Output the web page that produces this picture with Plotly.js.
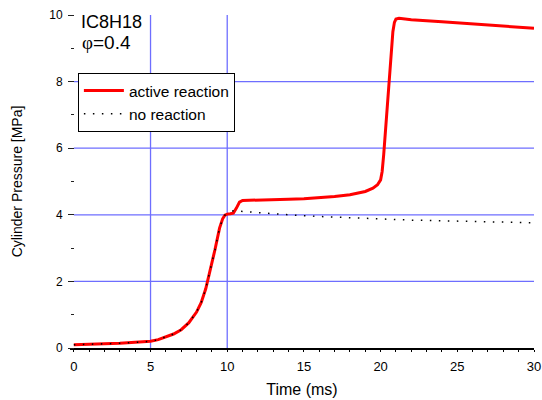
<!DOCTYPE html>
<html><head><meta charset="utf-8">
<script src="https://cdn.plot.ly/plotly-3.0.1.min.js"></script>
<style>html,body{margin:0;padding:0;background:#fff}#chart{width:542px;height:400px}</style>
</head><body><div id="chart"></div>
<script>
// Active reaction curve (time ms, pressure MPa)
const timeActive = [0,1,2,3,4,5,5.5,6,6.5,7,7.5,8,8.3,8.6,8.9,9.2,9.5,9.7,9.85,10,10.2,10.4,10.6,10.8,11,12,13,14,15,16,17,18,18.5,19,19.5,19.8,20,20.1,20.2,20.3,20.4,20.5,20.6,20.7,20.8,20.9,21,21.2,22,24,26,28,30];
const pressureActive = [0.1,0.11,0.12,0.14,0.17,0.2,0.25,0.33,0.42,0.55,0.76,1.08,1.36,1.78,2.33,2.95,3.6,3.88,3.99,4.02,4.03,4.05,4.2,4.38,4.43,4.45,4.46,4.47,4.48,4.51,4.55,4.6,4.64,4.7,4.8,4.9,5.05,5.3,5.8,6.4,7.1,7.7,8.3,8.8,9.5,9.78,9.88,9.9,9.86,9.8,9.73,9.66,9.6];
// No reaction curve
const timeNoReaction = [0,1,2,3,4,5,5.5,6,6.5,7,7.5,8,8.3,8.6,8.9,9.2,9.5,9.7,9.85,10,10.4,11,12,14,16,18,20,22,24,26,28,30];
const pressureNoReaction = [0.1,0.11,0.12,0.14,0.17,0.2,0.25,0.33,0.42,0.55,0.76,1.08,1.36,1.78,2.33,2.95,3.6,3.88,3.99,4.04,4.12,4.1,4.06,4.0,3.95,3.91,3.87,3.84,3.82,3.8,3.78,3.76];
// Tick labels and grid positions
const xTickVals = [0,5,10,15,20,25,30];
const yTickVals = [0,2,4,6,8,10];
const xGrid = [5,10];
const yGrid = [2,4,6,8];
const seriesNames = ["active reaction","no reaction"];

const gridColor = "rgb(110,110,255)";
const shapes = [];
xGrid.forEach(v => shapes.push({type:"line", xref:"x", yref:"y", x0:v, x1:v, y0:0, y1:10, layer:"below", line:{color:gridColor, width:1.3}}));
yGrid.forEach(v => shapes.push({type:"line", xref:"x", yref:"y", x0:0, x1:30, y0:v, y1:v, layer:"below", line:{color:gridColor, width:1.3}}));

const traces = [
  {x: timeActive, y: pressureActive, name: seriesNames[0], mode:"lines", line:{color:"#ff0000", width:3}},
  {x: timeNoReaction, y: pressureNoReaction, name: seriesNames[1], mode:"lines", line:{color:"#000000", width:1.5, dash:"1.5px,7.5px"}}
];

const font = "Arial, 'Liberation Sans', sans-serif";
const layout = {
  width:542, height:400,
  margin:{l:70, r:8, t:15, b:52},
  paper_bgcolor:"#fff", plot_bgcolor:"#fff",
  font:{family:font, color:"#000", size:12},
  showlegend:true,
  legend:{x:0.017, y:0.826, xanchor:"left", yanchor:"top", bgcolor:"#fff", bordercolor:"#000", borderwidth:1, font:{size:15.5, family:font}, tracegroupgap:0, itemwidth:40},
  xaxis:{range:[-0.25,30], tickvals:xTickVals, showgrid:false, zeroline:false, showline:true, linecolor:"#000", linewidth:1.5,
    ticks:"outside", ticklen:2, tickcolor:"#000", ticklabelstandoff:4, minor:{dtick:1, ticks:"outside", ticklen:2, tickcolor:"#000", showgrid:false},
    tickfont:{size:13}, title:{text:"Time (ms)", font:{size:16}, standoff:10}},
  yaxis:{range:[0,10], anchor:"free", position:0.0086, tickvals:yTickVals, showgrid:false, zeroline:false, showline:false,
    ticks:"outside", ticklen:6, tickcolor:"#222", ticklabelstandoff:3, minor:{tickvals:[1,3,5,7,9], ticks:"outside", ticklen:3, tickcolor:"#222", showgrid:false},
    tickfont:{size:12}, title:{text:"Cylinder Pressure [MPa]", font:{size:14}, standoff:22}},
  shapes: shapes,
  annotations:[
    {xref:"paper", yref:"paper", x:0.02, y:0.978, xanchor:"left", yanchor:"middle", showarrow:false, text:"IC8H18", font:{size:18, family:font}},
    {xref:"paper", yref:"paper", x:0.022, y:0.918, xanchor:"left", yanchor:"middle", showarrow:false, text:"<span style='font-family:\"Liberation Serif\",serif'>φ</span>=0.4", font:{size:19, family:font}}
  ]
};
Plotly.newPlot("chart", traces, layout, {displayModeBar:false, staticPlot:true});
</script></body></html>
